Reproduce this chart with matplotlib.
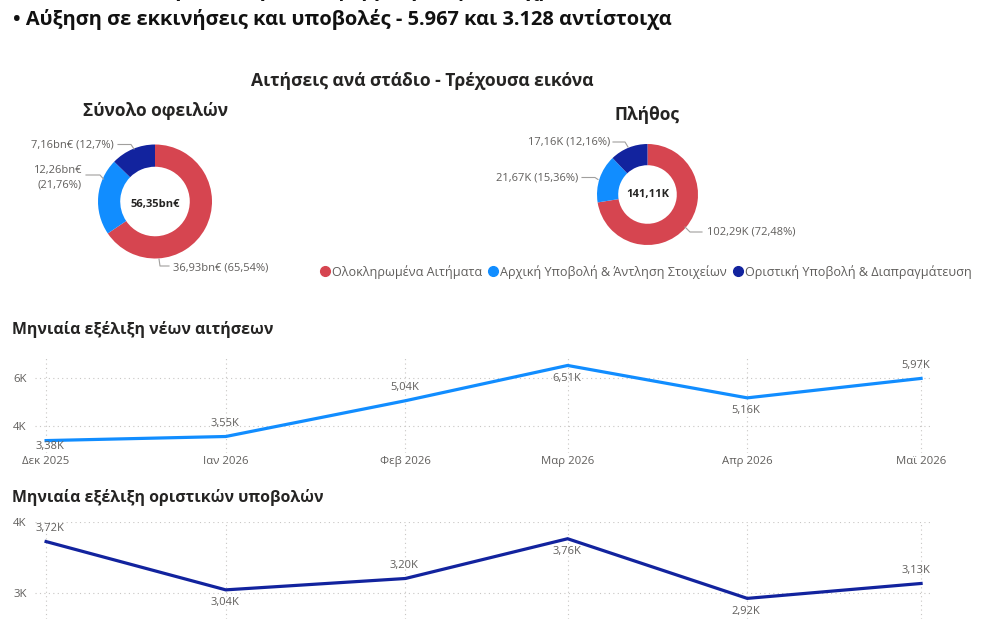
import matplotlib
matplotlib.use("Agg")
import matplotlib.pyplot as plt
from matplotlib.lines import Line2D
import numpy as np

plt.rcParams['font.family'] = ['Open Sans', 'DejaVu Sans']

# ---------------- data ----------------
stage_names = ["Ολοκληρωμένα Αιτήματα",
               "Αρχική Υποβολή & Άντληση Στοιχείων",
               "Οριστική Υποβολή & Διαπραγμάτευση"]
stage_colors = ["#D64550", "#118DFF", "#12239E"]

debt_values = [36.93, 12.26, 7.16]          # bn€
debt_pct = ["65,54%", "21,76%", "12,7%"]
debt_total = "56,35bn€"

count_values = [102.29, 21.67, 17.16]       # K
count_pct = ["72,48%", "15,36%", "12,16%"]
count_total = "141,11K"

months = np.array(["2025-12-01", "2026-01-01", "2026-02-01",
                   "2026-03-01", "2026-04-01", "2026-05-01"], dtype="datetime64[D]")
month_labels = ["Δεκ 2025", "Ιαν 2026", "Φεβ 2026", "Μαρ 2026", "Απρ 2026", "Μαϊ 2026"]
new_apps = [3.38, 3.55, 5.04, 6.51, 5.16, 5.97]        # K
final_subs = [3.72, 3.04, 3.20, 3.76, 2.92, 3.13]      # K

# ---------------- layout helpers ----------------
W, H = 990, 619
fig = plt.figure(figsize=(W / 100, H / 100), dpi=100)
fig.patch.set_facecolor("white")

def fx(x):
    return x / W

def fy(y):
    return 1 - y / H

DARK = "#252423"
GRAY = "#605E5C"
GRID = "#C8C6C4"
LEADER = "#A19F9D"

def ftext(x, y, s, **kw):
    kw.setdefault("color", DARK)
    return fig.text(fx(x), fy(y), s, **kw)

def fline(xs, ys, **kw):
    fig.add_artist(Line2D([fx(v) for v in xs], [fy(v) for v in ys],
                          color=LEADER, lw=0.8, **kw))

# ---------------- header ----------------
ftext(40, -9.5, "212,11K – αιτήσεις στην πλατφόρμα, με οφειλές χρέους 56,35bn€",
      fontsize=14.4, fontweight="bold", va="center", ha="left", color="#111111")
ftext(13, 20, "• Αύξηση σε εκκινήσεις και υποβολές - 5.967 και 3.128 αντίστοιχα",
      fontsize=14.4, fontweight="bold", va="center", ha="left", color="#111111")

ftext(422, 81, "Αιτήσεις ανά στάδιο - Τρέχουσα εικόνα",
      fontsize=12.6, fontweight="bold", va="center", ha="center")

# ---------------- donuts ----------------
def donut(cx, cy, r, values, width, title, title_xy, total, total_dy=0.0):
    ax = fig.add_axes([fx(cx - r), fy(cy + r), 2 * r / W, 2 * r / H])
    ax.pie(values, colors=stage_colors, startangle=90, counterclock=False,
           radius=1, wedgeprops=dict(width=width, linewidth=0))
    ax.set_xlim(-1, 1)
    ax.set_ylim(-1, 1)
    ax.set_aspect("equal")
    ax.axis("off")
    ax.text(0, total_dy, total, ha="center", va="center", fontsize=8,
            fontweight="bold", color=DARK)
    ftext(title_xy[0], title_xy[1], title, fontsize=12.5, fontweight="bold",
          ha="center", va="center")
    return ax

donut(155, 201.5, 57, debt_values, 0.39, "Σύνολο οφειλών", (155.5, 111.5), debt_total, -0.05)
donut(647.5, 194.5, 50.5, count_values, 0.42, "Πλήθος", (647.5, 114.5), count_total)

lab_kw = dict(fontsize=8, color=GRAY, va="center")
# debt labels
ftext(114, 145, f"{debt_values[2]:.2f}".replace(".", ",") + f"bn€ ({debt_pct[2]})", ha="right", **lab_kw)
fline([118, 131, 134], [144.5, 144.5, 149])
ftext(82, 177.5, f"{debt_values[1]:.2f}".replace(".", ",") + f"bn€\n({debt_pct[1]})",
      ha="right", linespacing=1.5, **lab_kw)
fline([86, 100, 103.5], [175, 175, 179])
ftext(173, 268, f"{debt_values[0]:.2f}".replace(".", ",") + f"bn€ ({debt_pct[0]})", ha="left", **lab_kw)
fline([159, 160, 169], [259, 266, 266])

# count labels
ftext(610, 142, f"{count_values[2]:.2f}".replace(".", ",") + f"K ({count_pct[2]})", ha="right", **lab_kw)
fline([613, 625, 628], [142, 142, 147])
ftext(578, 177.5, f"{count_values[1]:.2f}".replace(".", ",") + f"K ({count_pct[1]})", ha="right", **lab_kw)
fline([582, 595, 598], [177.5, 177.5, 179.5])
ftext(707, 232, f"{count_values[0]:.2f}".replace(".", ",") + f"K ({count_pct[0]})", ha="left", **lab_kw)
fline([685, 690, 702], [227, 232, 232])

# legend
handles = [Line2D([], [], marker="o", ls="", color=c, markersize=7) for c in stage_colors]
fig.legend(handles, stage_names, loc="center left", bbox_to_anchor=(fx(319), fy(272)),
           ncol=3, frameon=False, fontsize=9.1, handletextpad=0.1, columnspacing=0.45,
           handlelength=0.9, borderpad=0, borderaxespad=0, labelcolor=GRAY)

# ---------------- line charts ----------------
px_per_day = (921 - 46) / (months[-1] - months[0]).astype(int)

def line_chart(top, bottom, values, color, ylim, yticks, ytlabels, positions, title, title_y,
               show_x=True):
    ax = fig.add_axes([fx(35), fy(bottom), (930 - 35) / W, (bottom - top) / H])
    ax.plot(months, values, color=color, lw=2.3, solid_joinstyle="miter", zorder=3,
            clip_on=False)
    left = months[0] - np.timedelta64(int(round(11 / px_per_day * 24)), "h")
    right = months[-1] + np.timedelta64(int(round(9 / px_per_day * 24)), "h")
    ax.set_xlim(left, right)
    ax.set_ylim(*ylim)
    ax.set_yticks(yticks)
    ax.set_yticklabels(ytlabels)
    ax.set_xticks(months)
    ax.set_xticklabels(month_labels if show_x else [])
    for s in ax.spines.values():
        s.set_visible(False)
    ax.tick_params(length=0, labelsize=8.2, labelcolor=GRAY, pad=6)
    ax.tick_params(axis="x", pad=2.5)
    ax.grid(True, color=GRID, ls=(0, (1, 3)), lw=0.8)
    ax.set_facecolor("none")
    ppd = (bottom - top) / (ylim[1] - ylim[0])  # px per unit
    n = len(values)
    for i, (d, v, p) in enumerate(zip(months, values, positions)):
        dy = 13 if p == "above" else -13
        y_px = (v - ylim[0]) * ppd + dy
        y_px = max(y_px, 7)  # keep label inside plot area
        dx = 4 if i == 0 else (-5 if i == n - 1 else -1)
        ax.annotate(f"{v:.2f}".replace(".", ",") + "K", (d, v),
                    xytext=(dx * 0.72, (y_px - (v - ylim[0]) * ppd) * 0.72),
                    textcoords="offset points", ha="center", va="center",
                    fontsize=8, color=GRAY, annotation_clip=False)
    ftext(12, title_y, title, fontsize=11.45, fontweight="bold", ha="left", va="center")
    return ax

px1 = 24.0
line_chart(357, 453, new_apps, "#118DFF",
           (4 - (453 - 425.7) / px1, 6 + (377.7 - 357) / px1), [4, 6], ["4K", "6K"],
           ["below", "above", "above", "below", "below", "above"],
           "Μηνιαία εξέλιξη νέων αιτήσεων", 330)

px2 = 71.0
line_chart(521.7, 619, final_subs, "#12239E",
           (3 - (619 - 592.7) / px2, 4.0), [3, 4], ["3K", "4K"],
           ["above", "below", "above", "below", "below", "above"],
           "Μηνιαία εξέλιξη οριστικών υποβολών", 497, show_x=False)

fig.savefig("out.png", dpi=100, facecolor="white")
